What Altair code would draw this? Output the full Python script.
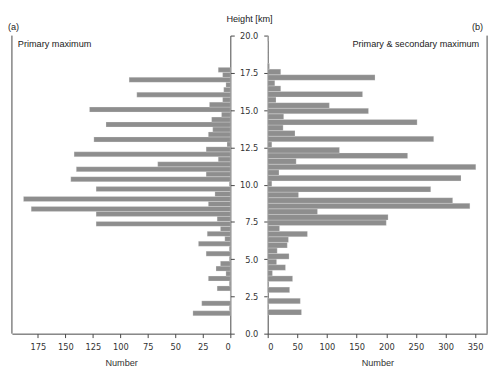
import altair as alt
import pandas as pd

# Panel (a): primary maximum, bins of 1/3 km starting at 1.2 km (bottom to top)
left_counts = [34, 1, 26, 0, 0, 12, 1, 20, 4, 13,
               9, 1, 22, 1, 29, 5, 21, 9, 122, 12,
               122, 181, 20, 188, 14, 122, 1, 145, 22, 140,
               66, 11, 142, 22, 3, 124, 20, 16, 113, 17,
               8, 128, 19, 7, 85, 6, 4, 92, 7, 11]
left_start, left_width = 1.2, 1 / 3

# Panel (b): primary & secondary maximum, bins of 0.375 km starting at 1.25 km
right_counts = [57, 2, 55, 0, 37, 2, 42, 8, 30, 15,
                36, 16, 33, 35, 67, 20, 200, 203, 84, 341,
                312, 52, 275, 7, 326, 19, 351, 48, 236, 121,
                7, 280, 46, 26, 252, 27, 170, 104, 14, 160,
                22, 12, 181, 22, 3, 0, 0, 0, 0, 1]
right_start, right_width = 1.25, 0.375

y_ticks = [0, 2.5, 5, 7.5, 10, 12.5, 15, 17.5, 20]
left_ticks = [0, 25, 50, 75, 100, 125, 150, 175]
right_ticks = [0, 50, 100, 150, 200, 250, 300, 350]

left_df = pd.DataFrame({
    "count": left_counts,
    "y0": [left_start + i * left_width for i in range(len(left_counts))],
})
left_df["y1"] = left_df["y0"] + left_width
left_df["zero"] = 0

right_df = pd.DataFrame({
    "count": right_counts,
    "y0": [right_start + i * right_width for i in range(len(right_counts))],
})
right_df["y1"] = right_df["y0"] + right_width
right_df["zero"] = 0

W, H = 483, 303
LW = 222      # left panel width
RX = 260      # right panel left edge
BAR = "#8e8e8e"
AX = "#444444"
TICKF = "DejaVu Sans"
TXTF = "Liberation Sans"

xaxis_common = dict(
    grid=False, domainColor=AX, tickColor=AX, tickSize=4, labelPadding=5,
    labelFont=TICKF, labelFontSize=8.4, labelColor="#333333",
    titleFont=TXTF, titleFontSize=9.3, titleFontWeight="normal", titleColor="#333333",
    titlePadding=8, orient="bottom",
)

left = alt.Chart(left_df).mark_bar(color=BAR, stroke="#f4f4f4", strokeWidth=0.25).encode(
    x=alt.X("count:Q", scale=alt.Scale(domain=[0, 198.5], range=[LW, 0], nice=False),
            axis=alt.Axis(values=left_ticks, title="Number", **xaxis_common)),
    x2="zero:Q",
    y=alt.Y("y0:Q", scale=alt.Scale(domain=[0, 20], nice=False),
            axis=alt.Axis(orient="right", offset=-(W - LW), values=y_ticks, labels=False,
                          grid=False, domainColor=AX, tickColor=AX, tickSize=4, title=None)),
    y2="y1:Q",
)

right = alt.Chart(right_df).mark_bar(color=BAR, stroke="#f4f4f4", strokeWidth=0.25).encode(
    x=alt.X("count:Q", scale=alt.Scale(domain=[0, 370], range=[RX, W], nice=False),
            axis=alt.Axis(values=right_ticks, title="Number", **xaxis_common)),
    x2="zero:Q",
    y=alt.Y("y0:Q", scale=alt.Scale(domain=[0, 20], nice=False),
            axis=alt.Axis(orient="left", offset=-RX, values=y_ticks, format=".1f",
                          grid=False, domainColor=AX, tickColor=AX, tickSize=4, labelPadding=6,
                          labelFont=TICKF, labelFontSize=8.4, labelColor="#333333", title=None)),
    y2="y1:Q",
)

one = alt.Data(values=[{}])
spine_l = alt.Chart(one).mark_rule(color=AX, strokeWidth=1).encode(
    x=alt.value(0), y=alt.value(0), y2=alt.value(H))
spine_r = alt.Chart(one).mark_rule(color=AX, strokeWidth=1).encode(
    x=alt.value(W), y=alt.value(0), y2=alt.value(H))

def label(txt, x, y, align, size=9.3):
    return alt.Chart(one).mark_text(
        text=txt, align=align, baseline="middle", font=TXTF, fontSize=size, color="#222222"
    ).encode(x=alt.value(x), y=alt.value(y))

texts = [
    label("(a)", -4, -8.5, "left"),
    label("(b)", 479, -9, "right"),
    label("Height [km]", 241.5, -17, "center"),
    label("Primary maximum", 6, 9, "left"),
    label("Primary & secondary maximum", 475, 9, "right"),
]

chart = alt.layer(left, right, spine_l, spine_r, *texts).resolve_scale(
    x="independent", y="independent"
).resolve_axis(x="independent", y="independent").properties(
    width=W, height=H,
    padding={"left": 4, "top": 25, "right": 5, "bottom": 40},
    autosize=alt.AutoSizeParams(type="none"),
).configure_view(stroke=None)

chart.save("out.html", embed_options={"renderer": "svg", "actions": False})
